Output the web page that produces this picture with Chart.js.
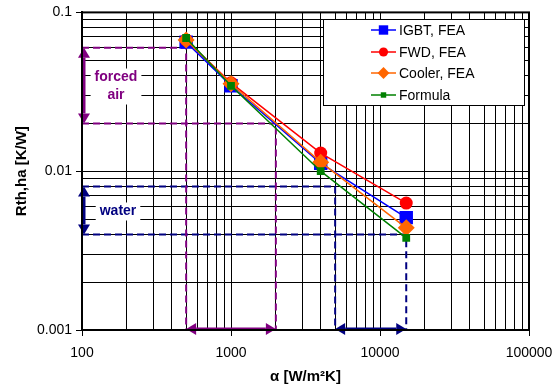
<!DOCTYPE html>
<html>
<head>
<meta charset="utf-8">
<script src="https://cdn.jsdelivr.net/npm/chart.js@4.4.1/dist/chart.umd.min.js"></script>
<style>
  html, body { margin: 0; padding: 0; background: #fff; }
  #wrap { width: 553px; height: 387px; }
</style>
</head>
<body>
<div id="wrap"><canvas id="rthChart"></canvas></div>
<script>
// heat transfer coefficient alpha [W/m²K]
const alphaValues = [500, 1000, 4000, 15000];

// heatsink-to-ambient thermal resistance [K/W]
const igbtFea   = [0.065, 0.0345, 0.0112, 0.0051];
const fwdFea    = [0.067, 0.0360, 0.0130, 0.0063];
const coolerFea = [0.067, 0.0355, 0.0114, 0.0044];
const formula   = [0.069, 0.0345, 0.0100, 0.0038];

const xTickLabels = [100, 1000, 10000, 100000];
const yTickLabels = [0.001, 0.01, 0.1];

// typical ranges for forced air and water cooling
const airAlpha   = [500, 2000];
const airRth     = [0.06, 0.02];
const waterAlpha = [5000, 15000];
const waterRth   = [0.008, 0.004];

const X_MIN = 100, X_MAX = 100000, Y_MIN = 0.001, Y_MAX = 0.1;
const PURPLE = '#800080', NAVY = '#000080';

function points(xs, ys) {
  return xs.map((x, i) => ({ x: x, y: ys[i] }));
}

// 1..9 x 10^n grid values across the axis range
function decadeTicks(min, max) {
  const out = [];
  for (let e = Math.round(Math.log10(min)); e < Math.round(Math.log10(max)); e++) {
    for (let s = 1; s < 10; s++) out.push(+(s * Math.pow(10, e)).toPrecision(3));
  }
  out.push(max);
  return out;
}

function isLabelled(v, list) {
  return list.some(l => Math.abs(Math.log10(v) - Math.log10(l)) < 1e-6);
}

function series(label, ys, color, style, radius, order) {
  return {
    label: label,
    data: points(alphaValues, ys),
    borderColor: color,
    backgroundColor: color,
    borderWidth: 1.5,
    pointStyle: style,
    pointRadius: radius,
    pointBorderWidth: 0,
    pointHoverRadius: radius,
    order: order,
    inLegend: true
  };
}

function rangeLine(data, color) {
  return {
    data: data,
    borderColor: color,
    borderWidth: 2,
    borderDash: [7, 4],
    pointRadius: 0,
    fill: false,
    order: 10,
    inLegend: false
  };
}

// dashed guides: horizontal from the axis to alpha, then down to the x axis
const guideSets = [
  rangeLine([{ x: X_MIN, y: airRth[0] }, { x: airAlpha[0], y: airRth[0] }, { x: airAlpha[0], y: Y_MIN }], PURPLE),
  rangeLine([{ x: X_MIN, y: airRth[1] }, { x: airAlpha[1], y: airRth[1] }, { x: airAlpha[1], y: Y_MIN }], PURPLE),
  rangeLine([{ x: X_MIN, y: waterRth[0] }, { x: waterAlpha[0], y: waterRth[0] }, { x: waterAlpha[0], y: Y_MIN }], NAVY),
  rangeLine([{ x: X_MIN, y: waterRth[1] }, { x: waterAlpha[1], y: waterRth[1] }, { x: waterAlpha[1], y: Y_MIN }], NAVY)
];

function drawArrow(ctx, x1, y1, x2, y2, color) {
  const ang = Math.atan2(y2 - y1, x2 - x1);
  const head = 10, half = 6;
  ctx.save();
  ctx.strokeStyle = color;
  ctx.fillStyle = color;
  ctx.lineWidth = 3;
  ctx.beginPath();
  ctx.moveTo(x1 + Math.cos(ang) * head, y1 + Math.sin(ang) * head);
  ctx.lineTo(x2 - Math.cos(ang) * head, y2 - Math.sin(ang) * head);
  ctx.stroke();
  [[x1, y1, ang + Math.PI], [x2, y2, ang]].forEach(([px, py, a]) => {
    ctx.beginPath();
    ctx.moveTo(px, py);
    ctx.lineTo(px - Math.cos(a) * head - Math.sin(a) * half, py - Math.sin(a) * head + Math.cos(a) * half);
    ctx.lineTo(px - Math.cos(a) * head + Math.sin(a) * half, py - Math.sin(a) * head - Math.cos(a) * half);
    ctx.closePath();
    ctx.fill();
  });
  ctx.restore();
}

function drawLabel(ctx, lines, cx, cy, color) {
  ctx.save();
  ctx.font = 'bold 14px "Liberation Sans", Arial, sans-serif';
  ctx.textAlign = 'center';
  ctx.textBaseline = 'middle';
  const lh = 18;
  const w = Math.max(...lines.map(l => ctx.measureText(l).width)) + 8;
  const top = cy - lines.length * lh / 2;
  ctx.fillStyle = '#fff';
  ctx.fillRect(cx - w / 2, top, w, lines.length * lh);
  ctx.fillStyle = color;
  lines.forEach((l, i) => ctx.fillText(l, cx, top + lh * i + lh / 2));
  ctx.restore();
}

// arrows and range captions
const rangePlugin = {
  id: 'ranges',
  afterDatasetsDraw(chart) {
    const { ctx, scales: { x, y } } = chart;
    const ax = x.getPixelForValue(X_MIN) + 2;
    const by = y.getPixelForValue(Y_MIN) - 1;

    drawArrow(ctx, ax, y.getPixelForValue(airRth[0]), ax, y.getPixelForValue(airRth[1]), PURPLE);
    drawArrow(ctx, x.getPixelForValue(airAlpha[0]), by, x.getPixelForValue(airAlpha[1]), by, PURPLE);
    drawArrow(ctx, ax, y.getPixelForValue(waterRth[0]), ax, y.getPixelForValue(waterRth[1]), NAVY);
    drawArrow(ctx, x.getPixelForValue(waterAlpha[0]), by, x.getPixelForValue(waterAlpha[1]), by, NAVY);

    const airMid = (y.getPixelForValue(airRth[0]) + y.getPixelForValue(airRth[1])) / 2;
    const waterMid = (y.getPixelForValue(waterRth[0]) + y.getPixelForValue(waterRth[1])) / 2;
    drawLabel(ctx, ['forced', 'air'], ax + 32, airMid + 1, PURPLE);
    drawLabel(ctx, ['water'], ax + 34, waterMid + 1, NAVY);
  }
};

// boxed legend in the upper right corner plus the heavy plot frame
const framePlugin = {
  id: 'frame',
  afterDraw(chart) {
    const { ctx, chartArea: a } = chart;
    ctx.save();
    ctx.strokeStyle = '#000';
    ctx.lineWidth = 2;
    ctx.strokeRect(a.left, a.top, a.right - a.left, a.bottom - a.top);

    const bx = 323.5, byTop = 19.5, bw = 201, bh = 86;
    ctx.fillStyle = '#fff';
    ctx.fillRect(bx, byTop, bw, bh);
    ctx.lineWidth = 1;
    ctx.strokeRect(bx, byTop, bw, bh);

    const rows = [30, 52, 73, 95];
    ctx.font = '14px "Liberation Sans", Arial, sans-serif';
    ctx.textBaseline = 'middle';
    ctx.textAlign = 'left';
    chart.data.datasets.filter(d => d.inLegend).forEach((d, i) => {
      const ry = rows[i];
      ctx.strokeStyle = d.borderColor;
      ctx.lineWidth = 1.5;
      ctx.beginPath();
      ctx.moveTo(371, ry);
      ctx.lineTo(396, ry);
      ctx.stroke();
      ctx.fillStyle = d.backgroundColor;
      Chart.helpers.drawPoint(ctx, { pointStyle: d.pointStyle, radius: d.pointRadius * 0.7, borderWidth: 0 }, 383.5, ry);
      ctx.fillStyle = '#000';
      ctx.fillText(d.label, 399, ry + 1);
    });
    ctx.restore();
  }
};

const tickFont = { family: '"Liberation Sans", Arial, sans-serif', size: 14 };
const titleFont = { family: '"Liberation Sans", Arial, sans-serif', size: 15, weight: 'bold' };

function gridOpts(labels) {
  return {
    color: '#000',
    lineWidth: 1,
    tickLength: 6,
    tickColor: ctx => (ctx.tick && isLabelled(ctx.tick.value, labels)) ? '#000' : 'rgba(0,0,0,0)'
  };
}

new Chart(document.getElementById('rthChart'), {
  type: 'line',
  data: {
    datasets: [
      series('IGBT, FEA', igbtFea, '#0000ff', 'rect', 9.5, 4),
      series('FWD, FEA', fwdFea, '#ff0000', 'circle', 6.5, 3),
      series('Cooler, FEA', coolerFea, '#ff6600', 'rectRot', 8.5, 2),
      series('Formula', formula, '#008000', 'rect', 5.5, 1),
      ...guideSets
    ]
  },
  options: {
    responsive: true,
    maintainAspectRatio: false,
    animation: false,
    layout: { padding: { top: 12, right: 24, left: 0, bottom: 0 } },
    plugins: {
      legend: { display: false },
      tooltip: { enabled: false }
    },
    scales: {
      x: {
        type: 'logarithmic',
        min: X_MIN,
        max: X_MAX,
        afterBuildTicks: s => { s.ticks = decadeTicks(X_MIN, X_MAX).map(v => ({ value: v })); },
        afterFit: s => { s.height = 57; s.paddingRight = 0; },
        ticks: {
          autoSkip: false,
          maxRotation: 0,
          padding: 9,
          color: '#000',
          font: tickFont,
          callback: v => isLabelled(v, xTickLabels) ? String(Math.round(v)) : ''
        },
        grid: gridOpts(xTickLabels),
        border: { color: '#000', width: 2 },
        title: { display: true, text: 'α [W/m²K]', color: '#000', font: titleFont, padding: { top: 0, bottom: 1 } }
      },
      y: {
        type: 'logarithmic',
        min: Y_MIN,
        max: Y_MAX,
        afterBuildTicks: s => { s.ticks = decadeTicks(Y_MIN, Y_MAX).map(v => ({ value: v })); },
        afterFit: s => { s.width = 82; },
        ticks: {
          autoSkip: false,
          padding: 4,
          color: '#000',
          font: tickFont,
          callback: v => isLabelled(v, yTickLabels) ? String(v) : ''
        },
        grid: gridOpts(yTickLabels),
        border: { color: '#000', width: 2 },
        title: { display: true, text: 'Rth,ha [K/W]', color: '#000', font: titleFont, padding: { top: 13, bottom: 0 } }
      }
    }
  },
  plugins: [rangePlugin, framePlugin]
});
</script>
</body>
</html>
